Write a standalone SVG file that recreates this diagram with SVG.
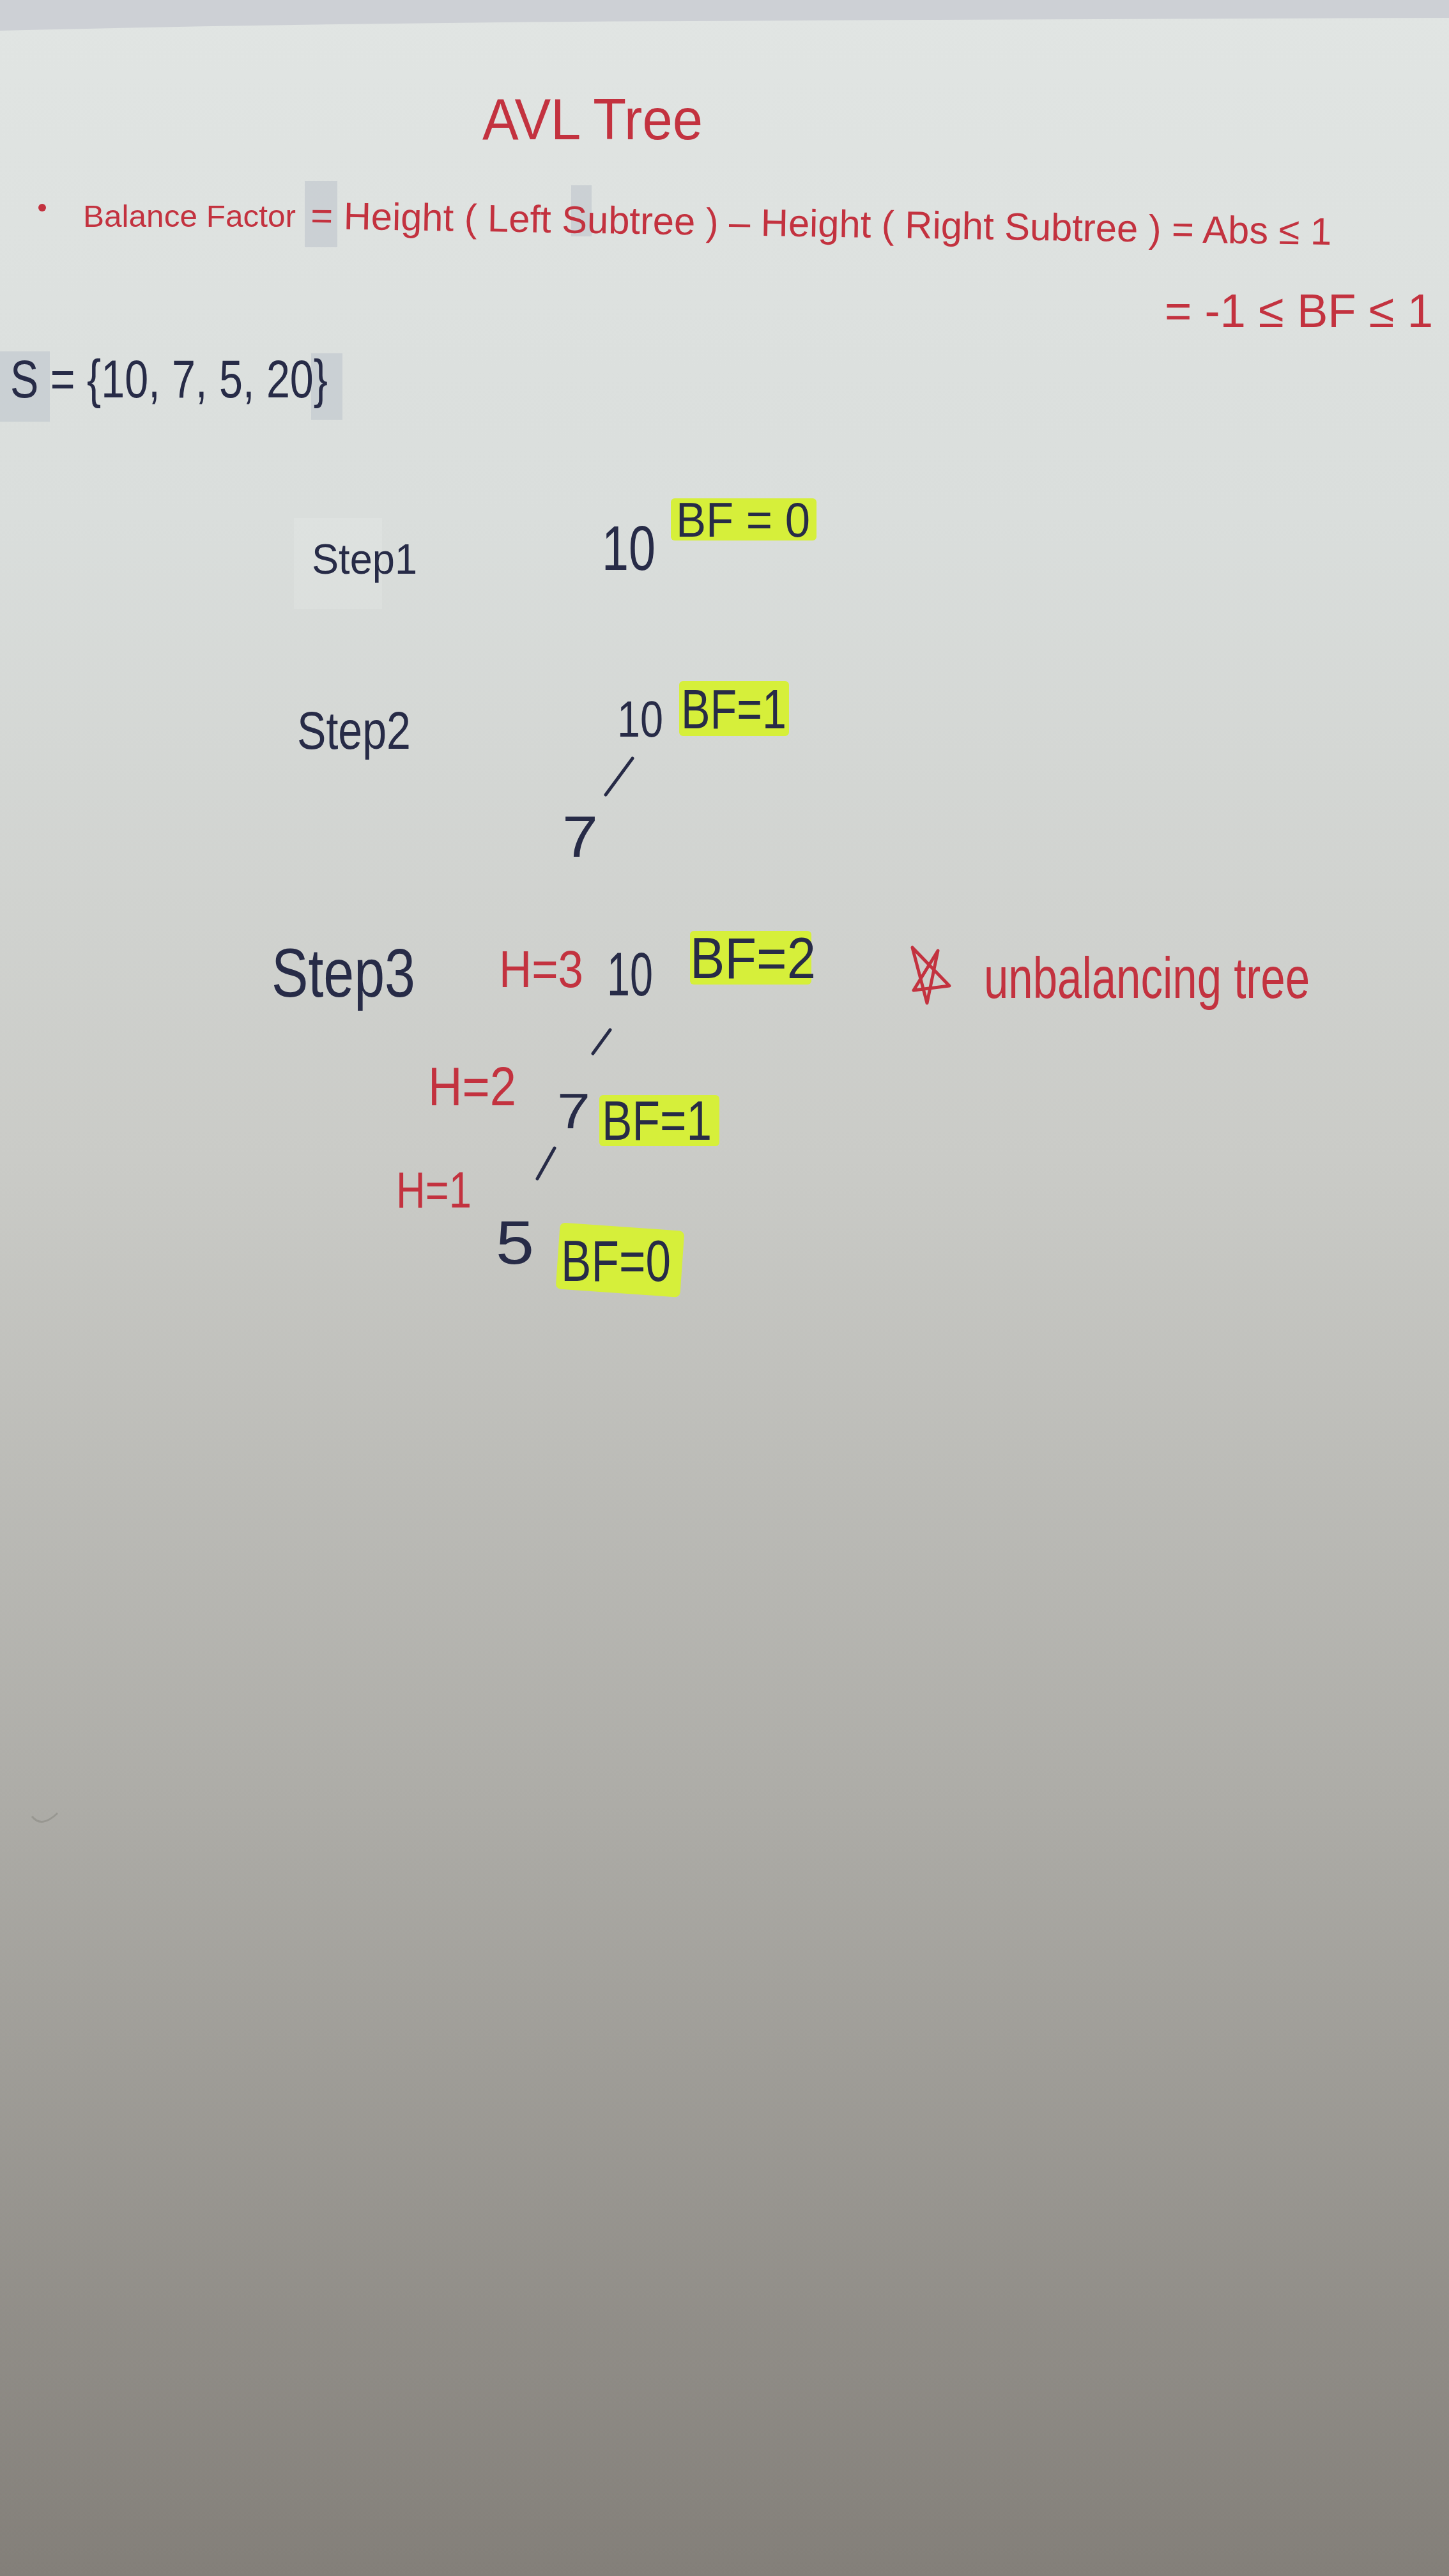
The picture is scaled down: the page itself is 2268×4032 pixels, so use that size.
<svg xmlns="http://www.w3.org/2000/svg" width="2268" height="4032" viewBox="0 0 2268 4032">
<defs>
<linearGradient id="paper" x1="0" y1="0" x2="0" y2="1">
<stop offset="0" stop-color="#e1e5e3"/>
<stop offset="0.2" stop-color="#dadedc"/>
<stop offset="0.45" stop-color="#cacbc7"/>
<stop offset="0.7" stop-color="#adaca7"/>
<stop offset="1" stop-color="#837f79"/>
</linearGradient>
<style>
text{font-family:"Liberation Sans Narrow","Liberation Sans",Arial,sans-serif;}
.red{fill:#c3323f;}
.ink{fill:#272b47;}
.hl{fill:#d6ef3a;}
.patch{fill:#c6ccd1;opacity:0.8;}
.edge{stroke:#272b47;stroke-width:5;stroke-linecap:round;fill:none;}
</style>
</defs>
<rect width="2268" height="4032" fill="url(#paper)"/>
<path d="M0 0H2268V28Q1600 30 900 34Q400 38 0 48Z" fill="#cdd0d5"/>
<path d="M50 2843Q65 2862 90 2838" stroke="#8a8a84" stroke-width="3" fill="none" opacity="0.6"/>

<g id="title"><text class="red" x="755" y="218" font-size="90" textLength="345" lengthAdjust="spacingAndGlyphs">AVL Tree</text></g>

<g id="definition">
<circle cx="66" cy="325" r="6" fill="#c3323f"/>
<rect class="patch" x="477" y="283" width="51" height="104"/>
<rect class="patch" x="894" y="290" width="32" height="80"/>
<text class="red" x="130" y="355" font-size="48" textLength="333" lengthAdjust="spacingAndGlyphs">Balance Factor</text>
<text class="red" x="486" y="358" font-size="60" textLength="1598" lengthAdjust="spacingAndGlyphs" transform="rotate(0.9 486 358)">= Height ( Left Subtree ) – Height ( Right Subtree ) = Abs ≤ 1</text>
<text class="red" x="1823" y="512" font-size="74" textLength="420" lengthAdjust="spacingAndGlyphs">= -1 ≤ BF ≤ 1</text>
</g>

<g id="set">
<rect class="patch" x="0" y="550" width="78" height="110"/>
<rect class="patch" x="487" y="553" width="49" height="104"/>
<text class="ink" x="16" y="622" font-size="84" textLength="497" lengthAdjust="spacingAndGlyphs">S = {10, 7, 5, 20}</text>
</g>

<g id="step1">
<rect x="460" y="811" width="138" height="142" fill="#ffffff" opacity="0.12"/>
<text class="ink" x="488" y="898" font-size="66" textLength="165" lengthAdjust="spacingAndGlyphs">Step1</text>
</g>
<g id="node-s1-10">
<text class="ink" x="942" y="892" font-size="98" textLength="84" lengthAdjust="spacingAndGlyphs">10</text>
<rect class="hl" x="1050" y="780" width="228" height="66" rx="6"/>
<text class="ink" x="1058" y="840" font-size="76" textLength="210" lengthAdjust="spacingAndGlyphs">BF = 0</text>
</g>

<g id="step2"><text class="ink" x="465" y="1172" font-size="84" textLength="178" lengthAdjust="spacingAndGlyphs">Step2</text></g>
<g id="node-s2-10">
<text class="ink" x="966" y="1153" font-size="80" textLength="72" lengthAdjust="spacingAndGlyphs">10</text>
<rect class="hl" x="1063" y="1066" width="172" height="86" rx="6"/>
<text class="ink" x="1066" y="1140" font-size="88" textLength="165" lengthAdjust="spacingAndGlyphs">BF=1</text>
</g>
<g id="node-s2-7"><text class="ink" x="880" y="1341" font-size="90" textLength="56" lengthAdjust="spacingAndGlyphs">7</text></g>

<g id="step3"><text class="ink" x="425" y="1560" font-size="108" textLength="225" lengthAdjust="spacingAndGlyphs">Step3</text></g>
<g id="node-s3-10">
<text class="red" x="781" y="1545" font-size="82" textLength="132" lengthAdjust="spacingAndGlyphs">H=3</text>
<text class="ink" x="950" y="1558" font-size="96" textLength="72" lengthAdjust="spacingAndGlyphs">10</text>
<rect class="hl" x="1080" y="1457" width="190" height="84" rx="6"/>
<text class="ink" x="1080" y="1531" font-size="90" textLength="197" lengthAdjust="spacingAndGlyphs">BF=2</text>
</g>
<g id="note">
<path d="M1428 1483L1451 1570L1468 1488L1430 1550L1486 1543Z" stroke="#c3323f" stroke-width="5" fill="none" stroke-linejoin="round"/>
<text class="red" x="1540" y="1562" font-size="90" textLength="510" lengthAdjust="spacingAndGlyphs">unbalancing tree</text>
</g>
<g id="node-s3-7">
<text class="red" x="670" y="1730" font-size="86" textLength="138" lengthAdjust="spacingAndGlyphs">H=2</text>
<text class="ink" x="872" y="1766" font-size="78" textLength="52" lengthAdjust="spacingAndGlyphs">7</text>
<rect class="hl" x="938" y="1714" width="188" height="80" rx="6"/>
<text class="ink" x="942" y="1784" font-size="88" textLength="172" lengthAdjust="spacingAndGlyphs">BF=1</text>
</g>
<g id="node-s3-5">
<text class="red" x="620" y="1890" font-size="80" textLength="118" lengthAdjust="spacingAndGlyphs">H=1</text>
<text class="ink" x="776" y="1978" font-size="96" textLength="60" lengthAdjust="spacingAndGlyphs">5</text>
<rect class="hl" x="873" y="1920" width="195" height="104" rx="8" transform="rotate(4 970 1972)"/>
<text class="ink" x="878" y="2005" font-size="90" textLength="172" lengthAdjust="spacingAndGlyphs">BF=0</text>
</g>

<g id="connectors">
<line class="edge" x1="948" y1="1244" x2="990" y2="1187"/>
<line class="edge" x1="928" y1="1649" x2="955" y2="1612"/>
<line class="edge" x1="841" y1="1845" x2="868" y2="1797"/>
</g>
</svg>
